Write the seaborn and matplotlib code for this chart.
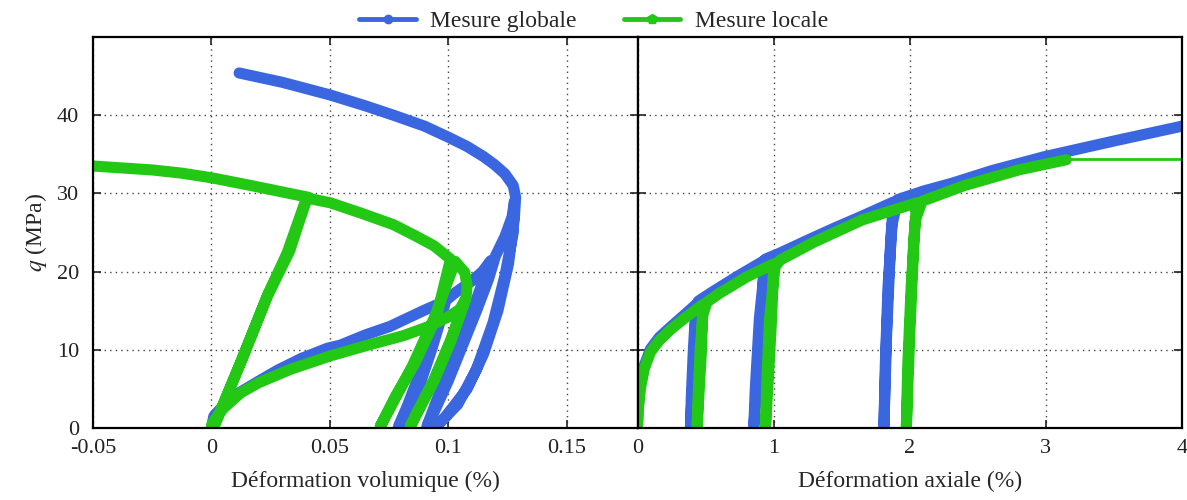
import numpy as np
import pandas as pd
import matplotlib.pyplot as plt
import seaborn as sns
from matplotlib.lines import Line2D

# Style (police type Times, ticks vers l'intérieur)
sns.set_theme(style='ticks')
plt.rcParams['font.family'] = ['Liberation Serif', 'DejaVu Serif']
plt.rcParams['mathtext.fontset'] = 'stix'
plt.rcParams['axes.unicode_minus'] = False

BLEU = '#3a67e0'
VERT = '#23c815'

# %% Données
# Panneau gauche : déformation volumique (%) / q (MPa) - mesure globale
vol_globale = [0.0, 0.001, 0.006, 0.0117, 0.02, 0.028, 0.038, 0.049, 0.0545, 0.065,
               0.0755, 0.0895, 0.097,
               0.093, 0.088, 0.083, 0.079,
               0.0835, 0.088, 0.093, 0.097, 0.099,
               0.103, 0.11, 0.1145, 0.118,
               0.115, 0.109, 0.103, 0.097, 0.091,
               0.094, 0.100, 0.106, 0.112, 0.117, 0.120,
               0.124, 0.127, 0.128,
               0.1275, 0.124, 0.119, 0.112, 0.104, 0.095,
               0.099, 0.108, 0.115, 0.121, 0.1255, 0.128, 0.1285,
               0.1275, 0.124, 0.1195, 0.115, 0.108, 0.100, 0.09, 0.0769, 0.065,
               0.05, 0.03, 0.0117]
q_vol_globale = [0.0, 1.5, 3.2, 4.5, 6.0, 7.4, 8.9, 10.2, 10.6, 11.9,
                 13.0, 15.0, 16.0,
                 12.0, 7.0, 3.0, 0.2,
                 2.0, 5.5, 10.0, 14.0, 16.3,
                 17.3, 18.8, 20.0, 21.4,
                 19.0, 14.0, 9.5, 5.0, 0.2,
                 2.0, 6.0, 10.5, 15.0, 19.0, 22.0,
                 24.5, 27.0, 29.0,
                 25.0, 19.5, 13.5, 7.5, 3.0, 0.2,
                 1.5, 5.0, 9.5, 15.0, 21.0, 27.0, 29.5,
                 31.0, 32.5, 33.7, 34.7, 36.0, 37.2, 38.6, 40.0, 41.2,
                 42.6, 44.2, 45.4]

# Panneau gauche - mesure locale
vol_locale = [0.0, 0.001, 0.005, 0.0124, 0.02, 0.0334, 0.05, 0.065, 0.081, 0.092,
              0.100, 0.105, 0.107,
              0.101, 0.094, 0.084,
              0.086, 0.094, 0.101, 0.1075,
              0.108, 0.107, 0.103,
              0.094, 0.085, 0.078, 0.0713,
              0.078, 0.086, 0.095, 0.101,
              0.094, 0.086, 0.0769, 0.063, 0.0502, 0.0405,
              0.039, 0.032, 0.0236, 0.0124, 0.0015,
              0.0125, 0.0238, 0.033, 0.0395, 0.041,
              0.0152, 0.0, -0.0128, -0.025, -0.05, -0.055]
q_vol_locale = [0.3, 0.9, 2.5, 4.5, 5.8, 7.5, 9.2, 10.5, 11.8, 13.0,
                14.2, 15.2, 16.3,
                11.0, 6.0, 0.2,
                1.5, 6.2, 11.2, 16.5,
                18.2, 19.9, 21.3,
                14.0, 8.0, 4.0, 0.2,
                4.2, 8.3, 14.2, 21.6,
                23.3, 24.6, 26.0, 27.5, 28.8, 29.4,
                28.4, 22.4, 16.9, 8.4, 0.5,
                8.5, 17.0, 22.6, 28.6, 29.5,
                31.1, 32.0, 32.6, 33.0, 33.5, 33.6]

# Panneau droit : déformation axiale (%) - mesure globale
ax_globale = [0.0, 0.005, 0.02, 0.05, 0.095, 0.16, 0.242, 0.34, 0.43,
              0.42, 0.40, 0.389,
              0.395, 0.41, 0.425, 0.445,
              0.55, 0.734, 0.93,
              0.91, 0.88, 0.854,
              0.865, 0.895, 0.94,
              1.05, 1.26, 1.45, 1.65, 1.88,
              1.86, 1.83, 1.81,
              1.82, 1.84, 1.87, 1.91,
              2.1, 2.31, 2.6, 2.99, 3.5, 4.0]
q_ax_globale = [0.3, 2.5, 5.3, 8.0, 10.1, 11.6, 12.9, 14.4, 15.8,
                10.0, 4.0, 0.2,
                4.0, 10.0, 14.5, 16.2,
                17.4, 19.4, 21.4,
                14.0, 6.0, 0.2,
                5.0, 14.0, 21.6,
                22.4, 24.1, 25.6, 27.1, 28.9,
                24.0, 12.0, 0.2,
                8.0, 18.0, 26.0, 29.2,
                30.3, 31.3, 32.9, 34.7, 36.7, 38.6]

# Panneau droit - mesure locale
ax_locale = [0.0, 0.005, 0.02, 0.05, 0.095, 0.16, 0.25, 0.35, 0.48,
             0.47, 0.45, 0.438,
             0.445, 0.46, 0.48, 0.51,
             0.6, 0.8, 1.0,
             0.985, 0.96, 0.94,
             0.95, 0.97, 1.01, 1.05,
             1.3, 1.65, 2.05,
             2.03, 2.0, 1.975,
             1.985, 2.01, 2.04, 2.09,
             2.4, 2.8, 3.15]
q_ax_locale = [0.3, 2.2, 5.0, 7.6, 9.7, 11.2, 12.7, 14.1, 15.8,
               10.0, 4.0, 0.2,
               4.0, 10.0, 14.5, 16.1,
               17.2, 19.3, 21.0,
               14.0, 6.0, 0.2,
               6.0, 14.0, 20.6, 21.5,
               23.8, 26.6, 28.8,
               24.0, 12.0, 0.2,
               8.0, 18.0, 26.5, 29.0,
               31.0, 33.0, 34.3]

# palier de la jauge locale (trait fin)
ax_palier = [3.15, 4.0]
q_palier = [34.4, 34.4]

# %% Figure
fig, (ax1, ax2) = plt.subplots(1, 2, figsize=(11.87, 5.0), dpi=100, sharey=True)
fig.subplots_adjust(left=0.0784, right=0.9958, top=0.926, bottom=0.144, wspace=0)

style = dict(sort=False, estimator=None, lw=8, solid_capstyle='round',
             solid_joinstyle='round')

sns.lineplot(x=vol_globale, y=q_vol_globale, color=BLEU, ax=ax1, **style)
sns.lineplot(x=vol_locale, y=q_vol_locale, color=VERT, ax=ax1, **style)
sns.lineplot(x=ax_globale, y=q_ax_globale, color=BLEU, ax=ax2, **style)
sns.lineplot(x=ax_locale, y=q_ax_locale, color=VERT, ax=ax2, **style)
sns.lineplot(x=ax_palier, y=q_palier, color=VERT, ax=ax2, sort=False,
             estimator=None, lw=2)

# Axes
ax1.set_xlim(-0.05, 0.18)
ax1.set_xticks([-0.05, 0, 0.05, 0.1, 0.15])
ax1.set_xticklabels(['-0.05', '0', '0.05', '0.1', '0.15'])
ax2.set_xlim(0, 4)
ax2.set_xticks([0, 1, 2, 3, 4])
ax2.set_xticklabels(['0', '1', '2', '3', '4'])
ax1.set_ylim(0, 50)
ax1.set_yticks([0, 10, 20, 30, 40])
ax1.set_yticklabels(['0', '10', '20', '30', '40'])

ax1.set_xlabel('Déformation volumique (%)', fontsize=17, labelpad=9)
ax2.set_xlabel('Déformation axiale (%)', fontsize=17, labelpad=9)
ax1.set_ylabel('$q$ (MPa)', fontsize=17, labelpad=6)

for ax in (ax1, ax2):
    ax.grid(True, linestyle=(0, (1, 3)), color='#444444', lw=1.0)
    ax.tick_params(direction='in', top=True, right=True, length=6, width=1.2,
                   labelsize=16, colors='#222222')
    ax.tick_params(axis='x', pad=8)
    ax.tick_params(axis='y', pad=10)
    for sp in ax.spines.values():
        sp.set_linewidth(1.6)
        sp.set_color('black')
ax2.tick_params(labelleft=False)

# Légende
poignees = [Line2D([], [], color=BLEU, lw=3.5, marker='o', ms=6),
            Line2D([], [], color=VERT, lw=3.5, marker='p', ms=7)]
fig.legend(poignees, ['Mesure globale', 'Mesure locale'], loc='upper center',
           bbox_to_anchor=(0.5, 1.022), ncol=2, frameon=False, fontsize=17,
           handlelength=2.4, columnspacing=2.0, handletextpad=0.6)

plt.savefig('out.png', dpi=100)
